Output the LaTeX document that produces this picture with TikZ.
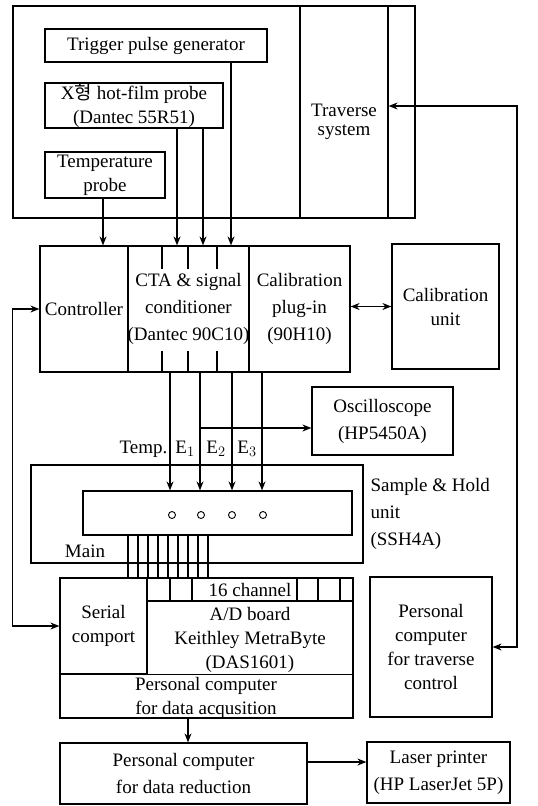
\documentclass[tikz,border=0pt]{standalone}
\usepackage{fontspec}
\setmainfont{Liberation Serif}
\newfontfamily\krfont{Noto Sans CJK KR}
\usetikzlibrary{arrows.meta}

\begin{document}
\begin{tikzpicture}[x=1pt, y=-1pt, line width=1.2pt, >={Stealth[length=9pt,width=7pt]},
  every node/.style={font=\fontsize{19}{24}\selectfont, inner sep=0pt, align=center},
  blk/.style 2 args={draw, minimum width=#1, minimum height=#2},
  wide/.style={font=\fontsize{19}{27}\selectfont}]
\fill[white] (0,0) rectangle (538,806);
\useasboundingbox (0,0) rectangle (538,806);
% probe stand
\node[blk={402}{212}] (frame) at (214,112) {};
\node[blk={88}{212}] (traverse) at (344,112) {};
\node[font=\fontsize{19}{19}\selectfont] (travtxt) at (344,122) {Traverse\\system};
\node[blk={222}{33}] (trigger) at (156,45.5) {Trigger pulse generator};
\node[blk={178}{45}] (xprobe) at (134,105.5) {X{\krfont 형} hot-film probe\\(Dantec 55R51)};
\node[blk={120}{46}] (tprobe) at (105,175) {Temperature\\probe};
% anemometer
\node[blk={88}{126}] (controller) at (84,309) {Controller};
\node[blk={121}{126}, wide] (cta) at (188.5,309) {CTA \& signal\\conditioner\\(Dantec 90C10)};
\node[blk={101}{126}, wide] (calplug) at (299.5,309) {Calibration\\plug-in\\(90H10)};
\node[blk={107}{125}] (calunit) at (445.5,306.5) {Calibration\\unit};
\node[blk={141}{68}, wide] (osc) at (382.5,421) {Oscilloscope\\(HP5450A)};
% sample & hold
\node[blk={332}{98}] (shouter) at (197,514) {};
\node[blk={269}{44}] (shinner) at (217.5,513) {};
\node[wide, anchor=west, align=left] (shlabel) at (370,514) {Sample \& Hold\\unit\\(SSH4A)};
\node (main) at (85,551) {Main};
% computers
\node[blk={293}{140}] (pcdaq) at (206.5,648) {};
\node[blk={87}{96}] (serial) at (103.5,626) {Serial\\comport};
\node[blk={206}{23}] (strip) at (250,589.5) {16 channel};
\node (adboard) at (250,640) {A/D board\\Keithley MetraByte\\(DAS1601)};
\node (daqtxt) at (206,698) {Personal computer\\for data acqusition};
\node[blk={122}{140}] (pctrav) at (431,647) {Personal\\computer\\for traverse\\control};
\node[blk={247}{61}, wide] (pcred) at (183.5,773.5) {Personal computer\\for data reduction};
\node[blk={143}{61}, wide] (laser) at (438.5,772.5) {Laser printer\\(HP LaserJet 5P)};

\draw[->] (tprobe.south -| 103,0) -- (controller.north -| 103,0);
\foreach \x in {177,203} \draw[->] (xprobe.south -| \x,0) -- (cta.north -| \x,0);
\draw[->] (trigger.south -| 231,0) -- (cta.north -| 231,0);
\foreach \x in {162,188,217} {
  \draw (cta.north -| \x,0) -- ++(0,24);
  \draw (cta.south -| \x,0) -- ++(0,-22);
}
\foreach \x in {170,200,232,262} \draw[->] (cta.south -| \x,0) -- (shinner.north -| \x,0);
\coordinate (tap) at (200,428);
\draw[->] (tap) -- (osc.west |- tap);
\node[anchor=east] (ltemp) at (168,449) {Temp.};
\node (le1) at (185,449) {E$_1$};
\node (le2) at (216,449) {E$_2$};
\node (le3) at (247,449) {E$_3$};
\foreach \x in {172,201,232,263} \draw[line width=0.9pt] (\x,515) circle (3.5pt);
\foreach \x in {128,138,...,208} \draw (shinner.south -| \x,0) -- (pcdaq.north -| \x,0);
\foreach \x in {170,192,297,318,340} \draw (strip.north -| \x,0) -- (strip.south -| \x,0);
\draw (serial.south west) -- (serial.south west -| pcdaq.east);
\draw[<->] (controller.west) -- ++(-27,0) |- (serial.west);
\draw[<->] (calunit.west -| calplug.east) -- (calunit.west);
\draw[<->] (traverse.east |- 0,106) -| (517,647) -- (pctrav.east);
\draw[->] (pcdaq.south -| 188,0) -- (pcred.north -| 188,0);
\draw[->] (pcred.east |- 0,762) -- (laser.west |- 0,762);
\end{tikzpicture}
\end{document}
